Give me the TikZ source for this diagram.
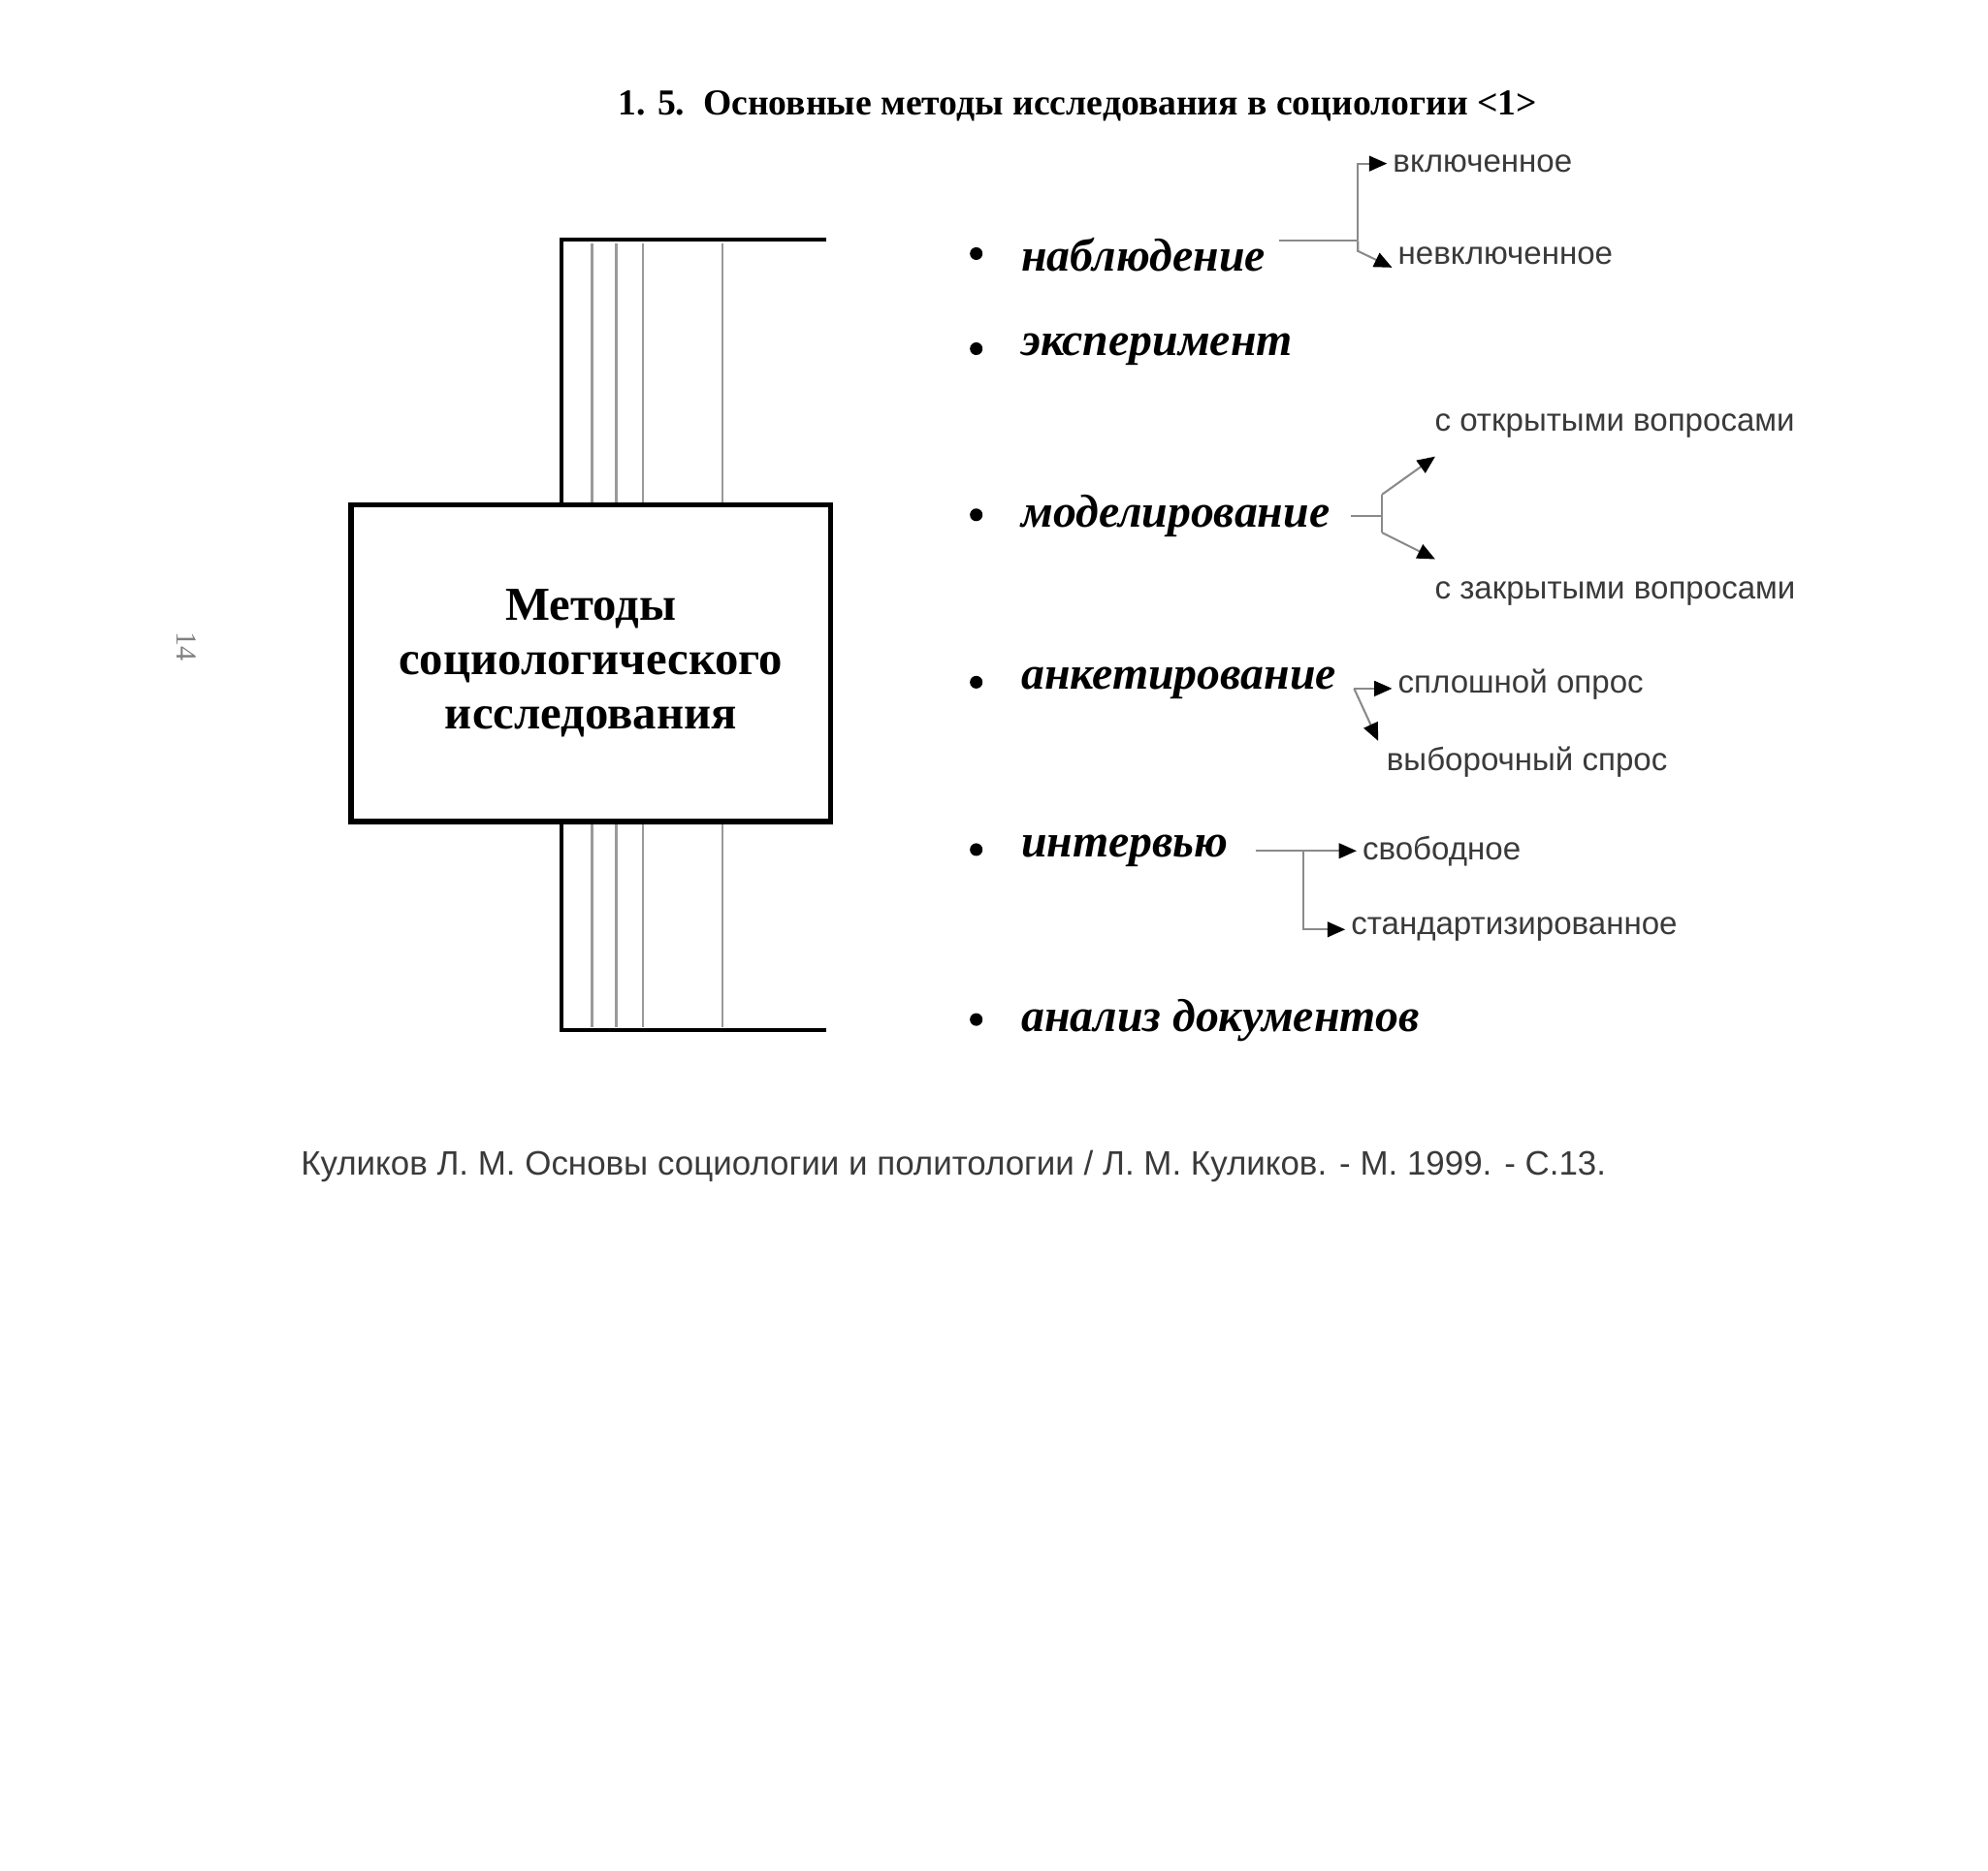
\documentclass[tikz,border=0pt]{standalone}
\usepackage{fontspec}
\setmainfont{Liberation Serif}
\setsansfont{Liberation Sans}
\usepackage{tikz}
\usetikzlibrary{arrows.meta, positioning}
\definecolor{linegray}{HTML}{8A8A8A}
\definecolor{labelgray}{HTML}{3A3A3A}
\definecolor{stripegray}{HTML}{9A9A9A}

\tikzset{
  mainbox/.style={draw, line width=1.2pt, fill=white, align=center,
    minimum width=37.8mm, minimum height=25mm, font=\fontsize{10.6}{12.2}\selectfont\bfseries},
  item/.style={anchor=west, inner sep=0pt, font=\fontsize{10.4}{12}\selectfont\bfseries\itshape},
  dot/.style={circle, fill=black, inner sep=0pt, minimum size=1mm},
  sublabel/.style={anchor=west, inner sep=0.4mm, text=labelgray, font=\sffamily\fontsize{7.2}{8}\selectfont},
  thin/.style={linegray, line width=0.45pt},
  arr/.style={thin, -{Triangle[length=1.4mm, width=1.2mm, color=black]}}
}

\begin{document}
\begin{tikzpicture}[x=0.1mm, y=-0.1mm]
  \useasboundingbox (0,0) rectangle (1568,1475);

  % Заголовок
  \node (title) at (850,84) {\fontsize{8.2}{9}\selectfont\bfseries 1. 5.\ \ Основные методы исследования в социологии <1>};

  % Номер страницы
  \node[rotate=-90, text=gray, font=\fontsize{6.5}{7}\selectfont] (page) at (147,510) {14};

  % Задняя рамка с полосами
  \draw[line width=0.9pt] (652,189) -- (443,189) -- (443,812) -- (652,812);
  \foreach \xx in {467,486,507,570} {
    \draw[stripegray, line width=0.5pt] (\xx,192) -- (\xx,397);
    \draw[stripegray, line width=0.5pt] (\xx,650) -- (\xx,810);
  }

  % Главный блок
  \node[mainbox] (methods) at (466,523) {Методы\\социологического\\исследования};

  % Методы
  \node[dot] (b1) at (770,200) {};
  \node[item] (nabl) at (805,201) {наблюдение};
  \node[dot] (b2) at (770,275) {};
  \node[item] (exper) at (805,276) {эксперимент};
  \node[dot] (b3) at (770,406) {};
  \node[item] (model) at (805,407) {моделирование};
  \node[dot] (b4) at (770,538) {};
  \node[item] (anket) at (805,539) {анкетирование};
  \node[dot] (b5) at (770,670) {};
  \node[item] (intv) at (805,671) {интервью};
  \node[dot] (b6) at (770,804) {};
  \node[item] (docs) at (805,805) {анализ документов};

  % Виды наблюдения
  \node[sublabel] (vkl) at (1094,129) {включенное};
  \node[sublabel] (nevkl) at (1098,202) {невключенное};
  \coordinate (nj) at (1071,190);
  \draw[thin] ([xshift=1mm]nabl.east |- nj) -- (nj);
  \draw[arr] (nj) |- (vkl.west);
  \draw[arr] (nj) -- ++(0,8) -- ([yshift=-0.9mm]nevkl.west);

  % Виды моделирования
  \node[sublabel] (open) at (1127,336) {с открытыми вопросами};
  \node[sublabel] (closed) at (1127,468) {с закрытыми вопросами};
  \coordinate (mj1) at (1090,390);
  \coordinate (mj2) at (1090,420);
  \draw[thin] ([xshift=1.6mm]model.east) -- (mj1 |- model.east);
  \draw[thin] (mj1) -- (mj2);
  \draw[arr] (mj1) -- (1132,360);
  \draw[arr] (mj2) -- (1132,441);

  % Виды анкетирования
  \node[sublabel] (splosh) at (1098,540) {сплошной опрос};
  \node[sublabel] (vyb) at (1089,601) {выборочный спрос};
  \coordinate (aj) at (1068,543);
  \draw[arr] (aj) -- (splosh.west |- aj);
  \draw[arr] (aj) -- ([xshift=-0.2mm]vyb.north west);

  % Виды интервью
  \node[sublabel] (svob) at (1070,671) {свободное};
  \node[sublabel] (stand) at (1061,733) {стандартизированное};
  \coordinate (ij) at (1028,671);
  \draw[thin] ([xshift=2.1mm]intv.east |- ij) -- (ij);
  \draw[arr] (ij) -- (svob.west);
  \draw[arr] (ij) |- (stand.west);

  % Источник
  \node[font=\sffamily\fontsize{7.6}{8}\selectfont, text=labelgray] (src) at (752,920)
    {Куликов Л. М. Основы социологии и политологии / Л. М. Куликов. - М. 1999. - С.13.};
\end{tikzpicture}
\end{document}
